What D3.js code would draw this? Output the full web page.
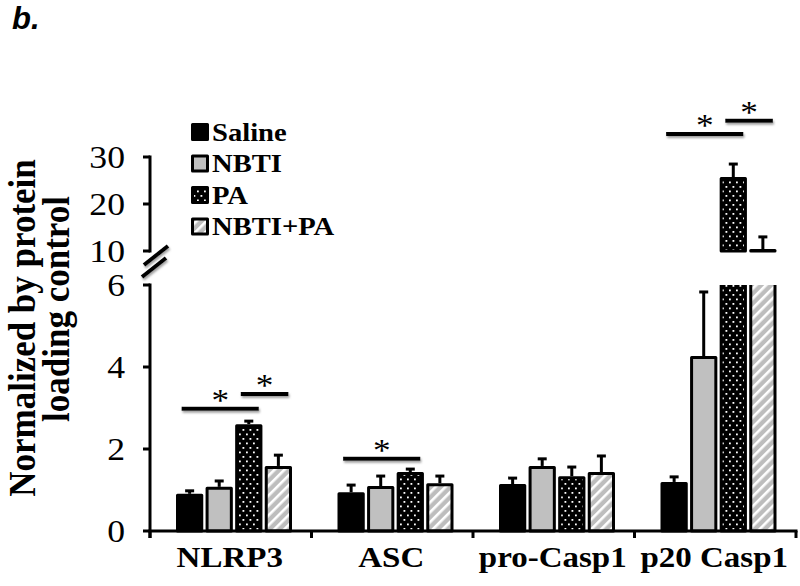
<!DOCTYPE html>
<html><head><meta charset="utf-8">
<script src="https://cdn.jsdelivr.net/npm/d3@7"></script>
<style>body{margin:0;background:#fff}svg{display:block}</style>
</head><body>
<svg id="chart" width="800" height="586"></svg>
<script>
// ---- data ----
const categories = ["NLRP3", "ASC", "pro-Casp1", "p20 Casp1"];
const seriesNames = ["Saline", "NBTI", "PA", "NBTI+PA"];
const saline    = [0.87, 0.91, 1.11, 1.16];
const salineErr = [0.11, 0.21, 0.18, 0.16];
const nbti      = [1.04, 1.06, 1.55, 4.23];
const nbtiErr   = [0.18, 0.28, 0.21, 1.60];
const pa        = [2.57, 1.40, 1.30, 25.4];
const paErr     = [0.11, 0.11, 0.26, 3.1];
const nbtiPa    = [1.55, 1.13, 1.40, 10.1];
const nbtiPaErr = [0.30, 0.21, 0.43, 2.9];
const lowerTicks = [0, 2, 4, 6];
const upperTicks = [10, 20, 30];
const sigCats  = ["NLRP3", "NLRP3", "ASC", "p20 Casp1", "p20 Casp1"];
const sigFrom  = [0, 2, 0, 0, 2];
const sigTo    = [2, 3, 2, 2, 3];
const sigLevel = [2.98, 3.34, 1.76, 34.9, 37.7];

const values = [saline, nbti, pa, nbtiPa];
const errors = [salineErr, nbtiErr, paErr, nbtiPaErr];
const fills = ["#000", "#c0c0c0", "url(#dots)", "url(#stripes)"];
const SX = 1.1; // horizontal stretch of text
const SERIF = "'Liberation Serif','Times New Roman',serif";

const svg = d3.select("#chart");
const defs = svg.append("defs");
const dots = defs.append("pattern").attr("id", "dots").attr("width", 7).attr("height", 9)
  .attr("patternUnits", "userSpaceOnUse");
dots.append("rect").attr("width", 7).attr("height", 9).attr("fill", "#000");
dots.append("rect").attr("x", 1).attr("y", 1.5).attr("width", 1.8).attr("height", 1.8).attr("fill", "#fff");
dots.append("rect").attr("x", 4.5).attr("y", 6).attr("width", 1.8).attr("height", 1.8).attr("fill", "#fff");
const stripes = defs.append("pattern").attr("id", "stripes").attr("width", 7).attr("height", 7)
  .attr("patternUnits", "userSpaceOnUse").attr("patternTransform", "rotate(45)");
stripes.append("rect").attr("width", 7).attr("height", 7).attr("fill", "#bdbdbd");
stripes.append("rect").attr("width", 2.6).attr("height", 7).attr("fill", "#fff");
const sh = defs.append("filter").attr("id", "shadow").attr("filterUnits", "userSpaceOnUse")
  .attr("x", 0).attr("y", 0).attr("width", 800).attr("height", 586);
sh.append("feDropShadow").attr("dx", 1).attr("dy", 2).attr("stdDeviation", 1.3)
  .attr("flood-color", "#777").attr("flood-opacity", 0.7);
defs.append("clipPath").attr("id", "clipLow").append("rect")
  .attr("x", 0).attr("y", 285).attr("width", 800).attr("height", 301);

// ---- scales ----
const yLow = d3.scaleLinear().domain([0, 6]).range([531, 285]);
const yUp = d3.scaleLinear().domain([10, 30]).range([251, 157]);
const x0 = d3.scaleBand().domain(categories).range([150, 796]);
const x1 = d3.scaleBand().domain(seriesNames).range([27.5, 140.5]).paddingInner(0.18);
const bw = x1.bandwidth();
const cx = (c, si) => x0(c) + x1(seriesNames[si]) + bw / 2;

function stext(g, x, y, str, opts) {
  const t = g.append("text")
    .attr("transform", `translate(${x},${y}) scale(${opts.sx || SX},1)`)
    .attr("text-anchor", opts.anchor || "start")
    .attr("font-family", opts.family || SERIF)
    .attr("font-size", opts.size)
    .attr("font-weight", opts.weight || "normal")
    .attr("fill", "#000")
    .text(str);
  if (opts.style) t.attr("font-style", opts.style);
  return t;
}

// ---- bars ----
const barsG = svg.append("g");
const lowG = barsG.append("g").attr("clip-path", "url(#clipLow)");
const upG = barsG.append("g");
seriesNames.forEach((s, si) => {
  categories.forEach((c, ci) => {
    const v = values[si][ci], e = errors[si][ci];
    const x = x0(c) + x1(s);
    const top = v > 6 ? yLow(6.5) : yLow(v);
    lowG.append("rect").attr("x", x).attr("y", top).attr("width", bw).attr("height", yLow(0) - top)
      .attr("fill", fills[si]).attr("stroke", "#000").attr("stroke-width", 3).attr("stroke-linejoin", "round");
    const ys = v > 6 ? yUp : yLow;
    if (v > 6) {
      upG.append("rect").attr("x", x).attr("y", yUp(v)).attr("width", bw).attr("height", yUp(10) - yUp(v))
        .attr("fill", fills[si]).attr("stroke", "#000").attr("stroke-width", 3).attr("stroke-linejoin", "round");
    }
    const xc = x + bw / 2;
    barsG.append("line").attr("x1", xc).attr("x2", xc).attr("y1", ys(v) - 1.5).attr("y2", ys(v + e))
      .attr("stroke", "#000").attr("stroke-width", 3);
    barsG.append("line").attr("x1", xc - 4.5).attr("x2", xc + 4.5).attr("y1", ys(v + e)).attr("y2", ys(v + e))
      .attr("stroke", "#000").attr("stroke-width", 3);
  });
});

// ---- axes ----
const axG = svg.append("g").attr("stroke", "#000").attr("stroke-width", 3).attr("fill", "none");
axG.append("line").attr("x1", 148.5).attr("x2", 797.5).attr("y1", yLow(0)).attr("y2", yLow(0));
const bounds = categories.map(c => x0(c)).concat([x0.range()[1]]);
bounds.forEach(b => axG.append("line").attr("x1", b).attr("x2", b).attr("y1", yLow(0)).attr("y2", yLow(0) + 7));
axG.append("line").attr("x1", 150).attr("x2", 150).attr("y1", yLow(6) - 1.5).attr("y2", yLow(0) + 7);
lowerTicks.forEach(t => axG.append("line").attr("x1", 143).attr("x2", 150).attr("y1", yLow(t)).attr("y2", yLow(t)));
axG.append("line").attr("x1", 150).attr("x2", 150).attr("y1", yUp(30) - 1.5).attr("y2", yUp(10) + 1.5);
upperTicks.forEach(t => axG.append("line").attr("x1", 143).attr("x2", 150).attr("y1", yUp(t)).attr("y2", yUp(t)));
// break marks
const brk = svg.append("g").attr("stroke", "#000").attr("stroke-width", 4).attr("filter", "url(#shadow)");
brk.append("line").attr("x1", 144).attr("y1", 265).attr("x2", 168).attr("y2", 246);
brk.append("line").attr("x1", 142).attr("y1", 277).attr("x2", 166).attr("y2", 258);

const txt = svg.append("g");
lowerTicks.forEach(t => stext(txt, 125, yLow(t) + 10.5, String(t), {size: 31, anchor: "end", sx: 1.15}));
upperTicks.forEach(t => stext(txt, 125, yUp(t) + 10.5, String(t), {size: 31, anchor: "end", sx: 1.15}));
categories.forEach(c => stext(txt, x0(c) + x0.bandwidth() / 2 - 1, 567, c, {size: 30, weight: "bold", anchor: "middle"}));

// y title
const tg = svg.append("g");
[["Normalized by protein", 35, 328], ["loading control", 69, 309]].forEach(([s, x, y]) => {
  tg.append("text").attr("transform", `translate(${x},${y}) rotate(-90) scale(1,1.1)`)
    .attr("text-anchor", "middle").attr("font-family", SERIF)
    .attr("font-size", 35).attr("font-weight", "bold").text(s);
});

// panel label
stext(svg, 12, 29, "b.", {size: 31, weight: "bold", style: "italic", sx: 1, family: "'Liberation Sans',Arial,sans-serif"});

// ---- legend ----
const lg = svg.append("g");
seriesNames.forEach((s, i) => {
  const yc = 132 + i * 31.5;
  lg.append("rect").attr("x", 192.5).attr("y", yc - 7.5).attr("width", 15).attr("height", 15)
    .attr("fill", fills[i]).attr("stroke", "#000").attr("stroke-width", 3).attr("stroke-linejoin", "round");
  stext(lg, 212, yc + 8.5, s, {size: 26, weight: "bold"});
});

// ---- significance ----
const sg = svg.append("g");
sigCats.forEach((c, i) => {
  const ys = sigLevel[i] > 6 ? yUp : yLow;
  const xa = cx(c, sigFrom[i]) - 8, xb = cx(c, sigTo[i]) + 10;
  const y = ys(sigLevel[i]);
  sg.append("line").attr("x1", xa).attr("x2", xb).attr("y1", y).attr("y2", y)
    .attr("stroke", "#000").attr("stroke-width", 4).attr("filter", "url(#shadow)");
  stext(sg, (xa + xb) / 2, y + 2, "*", {size: 32, anchor: "middle", sx: 1.1});
});
</script>
</body></html>
